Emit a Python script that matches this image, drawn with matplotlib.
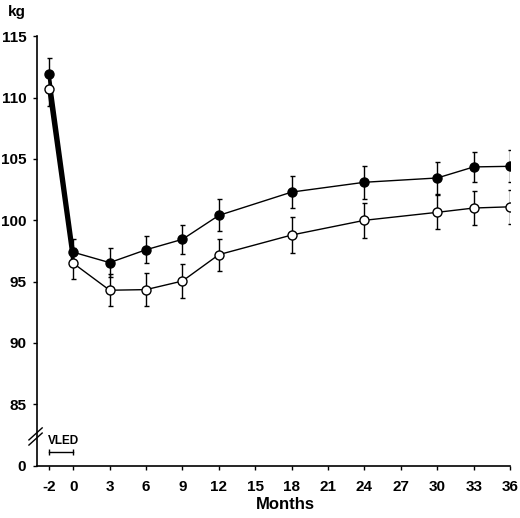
import numpy as np
import matplotlib
matplotlib.use("Agg")
import matplotlib.pyplot as plt

plt.rcParams['font.family'] = ['Liberation Sans', 'DejaVu Sans']
plt.rcParams['font.weight'] = 'bold'

# months after start (-2 = baseline, 0 = end of VLED)
meses = [-2, 0, 3, 6, 9, 12, 18, 24, 30, 33, 36]

# filled circles
peso_lleno = [111.9, 97.4, 96.55, 97.6, 98.45, 100.4, 102.3, 103.1, 103.45, 104.35, 104.4]
err_lleno = [1.3, 1.1, 1.2, 1.1, 1.2, 1.3, 1.3, 1.35, 1.3, 1.2, 1.3]

# open circles
peso_vacio = [110.7, 96.5, 94.3, 94.35, 95.05, 97.2, 98.8, 100.0, 100.65, 101.0, 101.1]
err_vacio = [1.4, 1.25, 1.3, 1.35, 1.4, 1.3, 1.5, 1.45, 1.4, 1.4, 1.4]

xticks = [-2, 0, 3, 6, 9, 12, 15, 18, 21, 24, 27, 30, 33, 36]
yticks = [80, 85, 90, 95, 100, 105, 110, 115]
ylabels = ['0', '85', '90', '95', '100', '105', '110', '115']

fig = plt.figure(figsize=(5.2, 5.18), dpi=100)
ax = fig.add_axes([0.072, 0.101, 0.909, 0.829])

# thick VLED drop segment
ax.plot(meses[:2], peso_lleno[:2], color='black', lw=2.6, zorder=2)
ax.plot(meses[:2], peso_vacio[:2], color='black', lw=2.6, zorder=2)

ax.errorbar(meses, peso_lleno, yerr=err_lleno, fmt='-o', color='black',
            ms=6.5, mfc='black', mec='black', lw=1, elinewidth=1,
            capsize=1.8, capthick=1, zorder=3)
ax.errorbar(meses, peso_vacio, yerr=err_vacio, fmt='-o', color='black',
            ms=6.5, mfc='white', mec='black', mew=1, lw=1, elinewidth=1,
            capsize=1.8, capthick=1, zorder=4)

ax.set_xlim(-2.95, 36)
ax.set_ylim(80, 115)
ax.set_xticks(xticks)
ax.set_xticklabels([str(m) for m in xticks], fontsize=11, fontweight='bold')
ax.set_yticks(yticks)
ax.set_yticklabels(ylabels, fontsize=11, fontweight='bold')
ax.tick_params(direction='out', length=3, width=1, pad=5)
ax.tick_params(axis='x', pad=7)

for lado in ['top', 'right']:
    ax.spines[lado].set_visible(False)
ax.spines['left'].set_linewidth(1.2)
ax.spines['bottom'].set_linewidth(1.2)

# axis break marks
for dy in [0.0, -0.012]:
    ax.plot([-0.018, 0.010], [0.060 + dy, 0.088 + dy], transform=ax.transAxes,
            color='black', lw=1, clip_on=False)

# VLED period
ax.plot([-2, 0], [81.1, 81.1], color='black', lw=1, marker='|', ms=4, mew=1)
ax.text(-2.1, 81.5, 'VLED', fontsize=8.5, fontweight='bold', ha='left', va='bottom')

fig.text(0.015, 0.977, 'kg', fontsize=11, fontweight='bold', va='center', ha='left')
fig.text(0.548, 0.012, 'Months', fontsize=12, fontweight='bold', ha='center', va='bottom')

fig.savefig('out.png', dpi=100)
